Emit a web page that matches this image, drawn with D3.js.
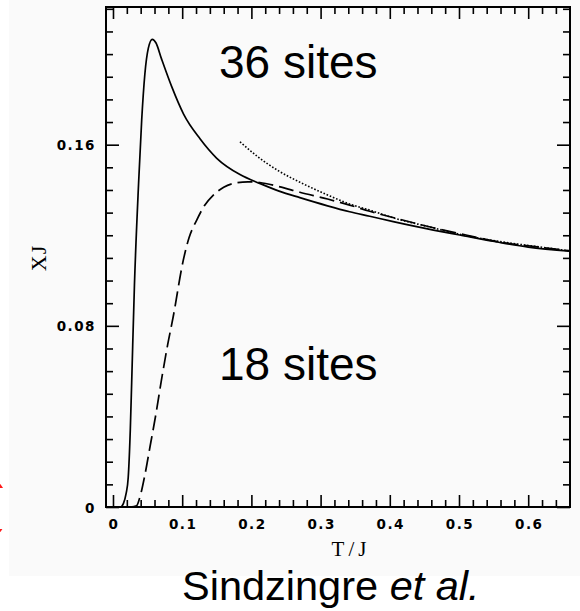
<!DOCTYPE html>
<html>
<head>
<meta charset="utf-8">
<script src="https://cdn.jsdelivr.net/npm/d3@7"></script>
<style>
  html, body { margin: 0; padding: 0; background: #ffffff; }
  svg { display: block; }
</style>
</head>
<body>
<svg id="chart" width="580" height="611"></svg>
<script>
// ---- data ----
const sites36T = [0.012, 0.015, 0.019, 0.022, 0.025, 0.027, 0.031, 0.037, 0.0415, 0.046, 0.051, 0.0568, 0.062, 0.070, 0.085, 0.102, 0.126, 0.150, 0.1835, 0.212, 0.240, 0.270, 0.310, 0.342, 0.371, 0.405, 0.463, 0.501, 0.559, 0.600, 0.660];
const sites36X = [0.0, 0.0015, 0.006, 0.013, 0.034, 0.055, 0.098, 0.143, 0.171, 0.191, 0.2025, 0.2065, 0.205, 0.198, 0.1855, 0.1735, 0.1625, 0.1540, 0.1468, 0.1429, 0.1395, 0.1366, 0.1330, 0.1304, 0.1284, 0.1260, 0.1223, 0.1201, 0.1168, 0.1148, 0.1130];

const sites18T = [0.025, 0.034, 0.039, 0.046, 0.0535, 0.062, 0.070, 0.078, 0.087, 0.1016, 0.110, 0.121, 0.132, 0.145, 0.160, 0.179, 0.195, 0.212, 0.240, 0.270, 0.310, 0.342, 0.371, 0.415, 0.463, 0.510, 0.559, 0.610, 0.660];
const sites18X = [0.0, 0.0005, 0.0045, 0.014, 0.0266, 0.041, 0.056, 0.070, 0.084, 0.109, 0.119, 0.1267, 0.1330, 0.1377, 0.1412, 0.1432, 0.1436, 0.1433, 0.1415, 0.1390, 0.1360, 0.1333, 0.1306, 0.1270, 0.1233, 0.1201, 0.1170, 0.1150, 0.1131];

const htT = [0.1835, 0.210, 0.240, 0.275, 0.310, 0.342, 0.371, 0.405, 0.453, 0.500, 0.559, 0.610, 0.660];
const htX = [0.1613, 0.1545, 0.1483, 0.1427, 0.1378, 0.1338, 0.1311, 0.1277, 0.1240, 0.1205, 0.1172, 0.1151, 0.1131];

const xMajorTicks = [0, 0.1, 0.2, 0.3, 0.4, 0.5, 0.6];
const xTickLabels = ["0", "0.1", "0.2", "0.3", "0.4", "0.5", "0.6"];
const yMajorTicks = [0, 0.08, 0.16];
const yTickLabels = ["0", "0.08", "0.16"];

const xLabel = "T/J";
const yLabel = "XJ";
const label36 = "36 sites";
const label18 = "18 sites";
const creditMain = "Sindzingre ";
const creditItalic = "et al.";

// ---- layout ----
const svg = d3.select("#chart");
const L = 106, R = 570, T = 7, B = 507;

const x = d3.scaleLinear().domain([-0.0101, 0.6604]).range([L, R]);
const y = d3.scaleLinear().domain([0, 0.2208]).range([B, T]);

// faint background panel
svg.append("rect").attr("x", 9).attr("y", 0).attr("width", 571).attr("height", 576).attr("fill", "#fafafa");

// red partial ellipse at the far left
const clipId = "redclip";
const defs = svg.append("defs");
const cp = defs.append("clipPath").attr("id", clipId);
cp.append("rect").attr("x", 0).attr("y", 470).attr("width", 7).attr("height", 18);
cp.append("rect").attr("x", 0).attr("y", 529).attr("width", 7).attr("height", 14);
svg.append("ellipse").attr("cx", -22).attr("cy", 508).attr("rx", 29).attr("ry", 34)
  .attr("fill", "none").attr("stroke", "#ff1a1a").attr("stroke-width", 2.6)
  .attr("clip-path", `url(#${clipId})`);

// ---- axes (ticks pointing inward on all four sides) ----
const xMinor = d3.range(0, 0.6601, 0.02).filter(v => !xMajorTicks.some(m => Math.abs(m - v) < 1e-6));
const yMinor = d3.range(0, 0.2201, 0.01).filter(v => !yMajorTicks.some(m => Math.abs(m - v) < 1e-6));

function styleAxis(g) {
  g.select(".domain").remove();
  g.selectAll(".tick line").attr("stroke", "#000").attr("stroke-width", 1.6);
}

// bottom
svg.append("g").attr("transform", `translate(0,${B})`)
  .call(d3.axisBottom(x).tickValues(xMajorTicks).tickSize(-12).tickFormat(""))
  .call(styleAxis);
svg.append("g").attr("transform", `translate(0,${B})`)
  .call(d3.axisBottom(x).tickValues(xMinor).tickSize(-7).tickFormat(""))
  .call(styleAxis);
// top
svg.append("g").attr("transform", `translate(0,${T})`)
  .call(d3.axisTop(x).tickValues(xMajorTicks).tickSize(-12).tickFormat(""))
  .call(styleAxis);
svg.append("g").attr("transform", `translate(0,${T})`)
  .call(d3.axisTop(x).tickValues(xMinor).tickSize(-7).tickFormat(""))
  .call(styleAxis);
// left
svg.append("g").attr("transform", `translate(${L},0)`)
  .call(d3.axisLeft(y).tickValues(yMajorTicks).tickSize(-13).tickFormat(""))
  .call(styleAxis);
svg.append("g").attr("transform", `translate(${L},0)`)
  .call(d3.axisLeft(y).tickValues(yMinor).tickSize(-7).tickFormat(""))
  .call(styleAxis);
// right
svg.append("g").attr("transform", `translate(${R},0)`)
  .call(d3.axisRight(y).tickValues(yMajorTicks).tickSize(-13).tickFormat(""))
  .call(styleAxis);
svg.append("g").attr("transform", `translate(${R},0)`)
  .call(d3.axisRight(y).tickValues(yMinor).tickSize(-7).tickFormat(""))
  .call(styleAxis);

// frame
svg.append("rect").attr("x", L).attr("y", T).attr("width", R - L).attr("height", B - T)
  .attr("fill", "none").attr("stroke", "#000").attr("stroke-width", 2);

// tick labels
const tickFont = "'DejaVu Sans', sans-serif";
svg.append("g").selectAll("text").data(xMajorTicks).join("text")
  .attr("x", (d) => x(d) + 1)
  .attr("y", 529)
  .attr("text-anchor", "middle")
  .attr("font-family", tickFont).attr("font-size", 13.5).attr("font-weight", "bold")
  .attr("letter-spacing", 1.5)
  .text((d, i) => xTickLabels[i]);

svg.append("g").selectAll("text").data(yMajorTicks).join("text")
  .attr("x", 96)
  .attr("y", (d) => y(d) + 5.5)
  .attr("text-anchor", "end")
  .attr("font-family", tickFont).attr("font-size", 13.5).attr("font-weight", "bold")
  .attr("letter-spacing", 1.5)
  .text((d, i) => yTickLabels[i]);

// axis titles
svg.append("text").attr("x", 351).attr("y", 556).attr("text-anchor", "middle")
  .attr("font-family", "'Liberation Serif', serif").attr("font-size", 21)
  .attr("letter-spacing", 4)
  .text(xLabel);
svg.append("text").attr("transform", "translate(46,258) rotate(-90)").attr("text-anchor", "middle")
  .attr("font-family", "'Liberation Serif', serif").attr("font-size", 22)
  .attr("letter-spacing", 1)
  .text(yLabel);

// ---- curves ----
const line = d3.line().x(d => x(d[0])).y(d => y(d[1])).curve(d3.curveMonotoneX);
const s36 = sites36T.map((t, i) => [t, sites36X[i]]);
const s18 = sites18T.map((t, i) => [t, sites18X[i]]);
const ht = htT.map((t, i) => [t, htX[i]]);

svg.append("path").datum(s36).attr("d", line)
  .attr("fill", "none").attr("stroke", "#000").attr("stroke-width", 1.7);
svg.append("path").datum(s18).attr("d", line)
  .attr("fill", "none").attr("stroke", "#000").attr("stroke-width", 1.7)
  .attr("stroke-dasharray", "15,6");
svg.append("path").datum(ht).attr("d", line)
  .attr("fill", "none").attr("stroke", "#000").attr("stroke-width", 1.6)
  .attr("stroke-dasharray", "1.6,1.8");

// ---- annotations ----
svg.append("text").attr("x", 219).attr("y", 78)
  .attr("font-family", "'Liberation Sans', Arial, sans-serif").attr("font-size", 46)
  .text(label36);
svg.append("text").attr("x", 219).attr("y", 380)
  .attr("font-family", "'Liberation Sans', Arial, sans-serif").attr("font-size", 46)
  .text(label18);
const credit = svg.append("text").attr("x", 182).attr("y", 600)
  .attr("font-family", "'Liberation Sans', Arial, sans-serif").attr("font-size", 41.5);
credit.append("tspan").text(creditMain);
credit.append("tspan").attr("font-style", "italic").text(creditItalic);
</script>
</body>
</html>
